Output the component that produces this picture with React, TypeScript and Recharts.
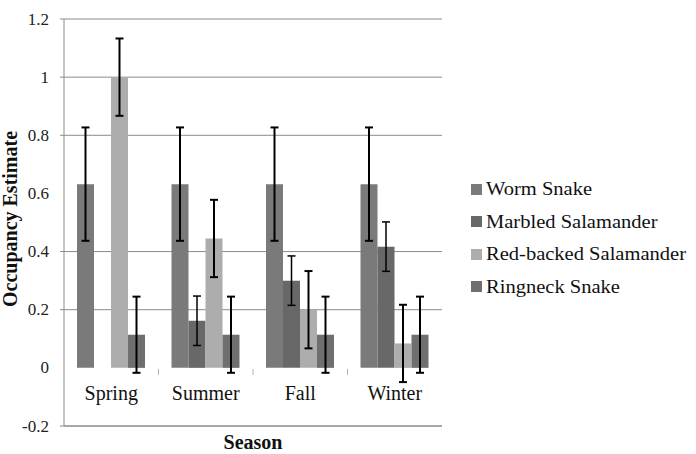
import React from "react";
import { BarChart, Bar, XAxis, YAxis, CartesianGrid, ErrorBar } from "recharts";

const seasons = ["Spring", "Summer", "Fall", "Winter"];

const wormSnake = [0.632, 0.632, 0.632, 0.632];
const wormSnakeErr = [0.195, 0.195, 0.195, 0.195];
const marbledSalamander = [0, 0.162, 0.3, 0.417];
const marbledSalamanderErr = [0.085, 0.085, 0.085, 0.085];
const redBackedSalamander = [1.0, 0.445, 0.2, 0.084];
const redBackedSalamanderErr = [0.133, 0.133, 0.133, 0.133];
const ringneckSnake = [0.114, 0.114, 0.114, 0.114];
const ringneckSnakeErr = [0.131, 0.131, 0.131, 0.131];

const yTicks = [-0.2, 0, 0.2, 0.4, 0.6, 0.8, 1, 1.2];
const gridValues = [-0.2, 0.2, 0.4, 0.8, 1, 1.2];

const series = [
  { key: "worm", name: "Worm Snake", color: "#7a7a7a", err: 2 },
  { key: "marbled", name: "Marbled Salamander", color: "#686868", err: 1.5 },
  { key: "redbacked", name: "Red-backed Salamander", color: "#adadad", err: 2 },
  { key: "ringneck", name: "Ringneck Snake", color: "#6f6f6f", err: 2 },
];

const data = seasons.map((s, i) => ({
  season: s,
  worm: wormSnake[i],
  wormErr: wormSnakeErr[i],
  marbled: marbledSalamander[i],
  marbledErr: marbledSalamanderErr[i],
  redbacked: redBackedSalamander[i],
  redbackedErr: redBackedSalamanderErr[i],
  ringneck: ringneckSnake[i],
  ringneckErr: ringneckSnakeErr[i],
}));

const W = 696;
const H = 454;
const TOP = 19;
const BOTTOM = 426;
const LEFT = 64;
const RIGHT = 442;
const FONT = "Liberation Serif, DejaVu Serif, serif";
const GRID = "#8a8a8a";

// y pixel of the zero line, used to hang the season labels there
const zeroY = TOP + ((1.2 - 0) / 1.4) * (BOTTOM - TOP);
const band = (RIGHT - LEFT) / seasons.length;

const YTick = ({ y, payload }: any) => (
  <g>
    {gridValues.includes(payload.value) && (
      <line x1={LEFT - 4} x2={LEFT} y1={y} y2={y} stroke={GRID} />
    )}
    <text
      x={49}
      y={y}
      textAnchor="end"
      dominantBaseline="central"
      style={{ fontFamily: FONT }}
      fontSize={17}
      fill="#222"
    >
      {payload.value}
    </text>
  </g>
);

const SeasonTick = ({ x, payload, index }: any) => (
  <g>
    {index < seasons.length - 1 && (
      <line
        x1={x + band / 2}
        x2={x + band / 2}
        y1={zeroY + 1}
        y2={zeroY + 7}
        stroke="#b0b0b0"
      />
    )}
    <text
      x={x}
      y={zeroY + 25}
      textAnchor="middle"
      dominantBaseline="central"
      style={{ fontFamily: FONT }}
      fontSize={20}
      fill="#111"
    >
      {payload.value}
    </text>
  </g>
);

export default function App() {
  return (
    <div style={{ position: "absolute", left: 0, top: 0, width: W, height: H, background: "#fff", fontFamily: FONT }}>
      <BarChart
        width={W}
        height={H}
        data={data}
        margin={{ top: TOP, right: W - RIGHT, bottom: H - BOTTOM - 1, left: 0 }}
        barGap={0}
        barSize={17}
      >
        <CartesianGrid
          vertical={false}
          horizontalValues={gridValues}
          stroke={GRID}
        />
        <XAxis
          dataKey="season"
          height={1}
          axisLine={{ stroke: GRID }}
          tickLine={false}
          tick={<SeasonTick />}
          interval={0}
        />
        <YAxis
          width={LEFT}
          domain={[-0.2, 1.2]}
          ticks={yTicks}
          axisLine={{ stroke: GRID }}
          tickLine={false}
          tick={<YTick />}
          interval={0}
        />
        {series.map((s) => (
          <Bar
            key={s.key}
            dataKey={s.key}
            name={s.name}
            fill={s.color}
            isAnimationActive={false}
          >
            <ErrorBar
              dataKey={`${s.key}Err`}
              width={4}
              stroke="#000"
              strokeWidth={s.err}
              isAnimationActive={false}
            />
          </Bar>
        ))}
        <text
          x={10}
          y={219}
          transform="rotate(-90, 10, 219)"
          textAnchor="middle"
          dominantBaseline="central"
          style={{ fontFamily: FONT }}
          fontSize={20}
          fontWeight="bold"
          fill="#111"
        >
          Occupancy Estimate
        </text>
        <text
          x={(LEFT + RIGHT) / 2}
          y={442}
          textAnchor="middle"
          dominantBaseline="central"
          style={{ fontFamily: FONT }}
          fontSize={20}
          fontWeight="bold"
          fill="#111"
        >
          Season
        </text>
      </BarChart>
      {/* legend, slightly widened glyphs */}
      <div style={{ position: "absolute", left: 471, top: 173, fontSize: 19, color: "#111" }}>
        {series.map((s) => (
          <div key={s.key} style={{ display: "flex", alignItems: "center", height: 32.5, whiteSpace: "nowrap" }}>
            <span style={{ width: 11, height: 11, background: s.color, display: "inline-block", marginRight: 4 }} />
            <span style={{ display: "inline-block", transform: "scaleX(1.08)", transformOrigin: "left center" }}>
              {s.name}
            </span>
          </div>
        ))}
      </div>
    </div>
  );
}
